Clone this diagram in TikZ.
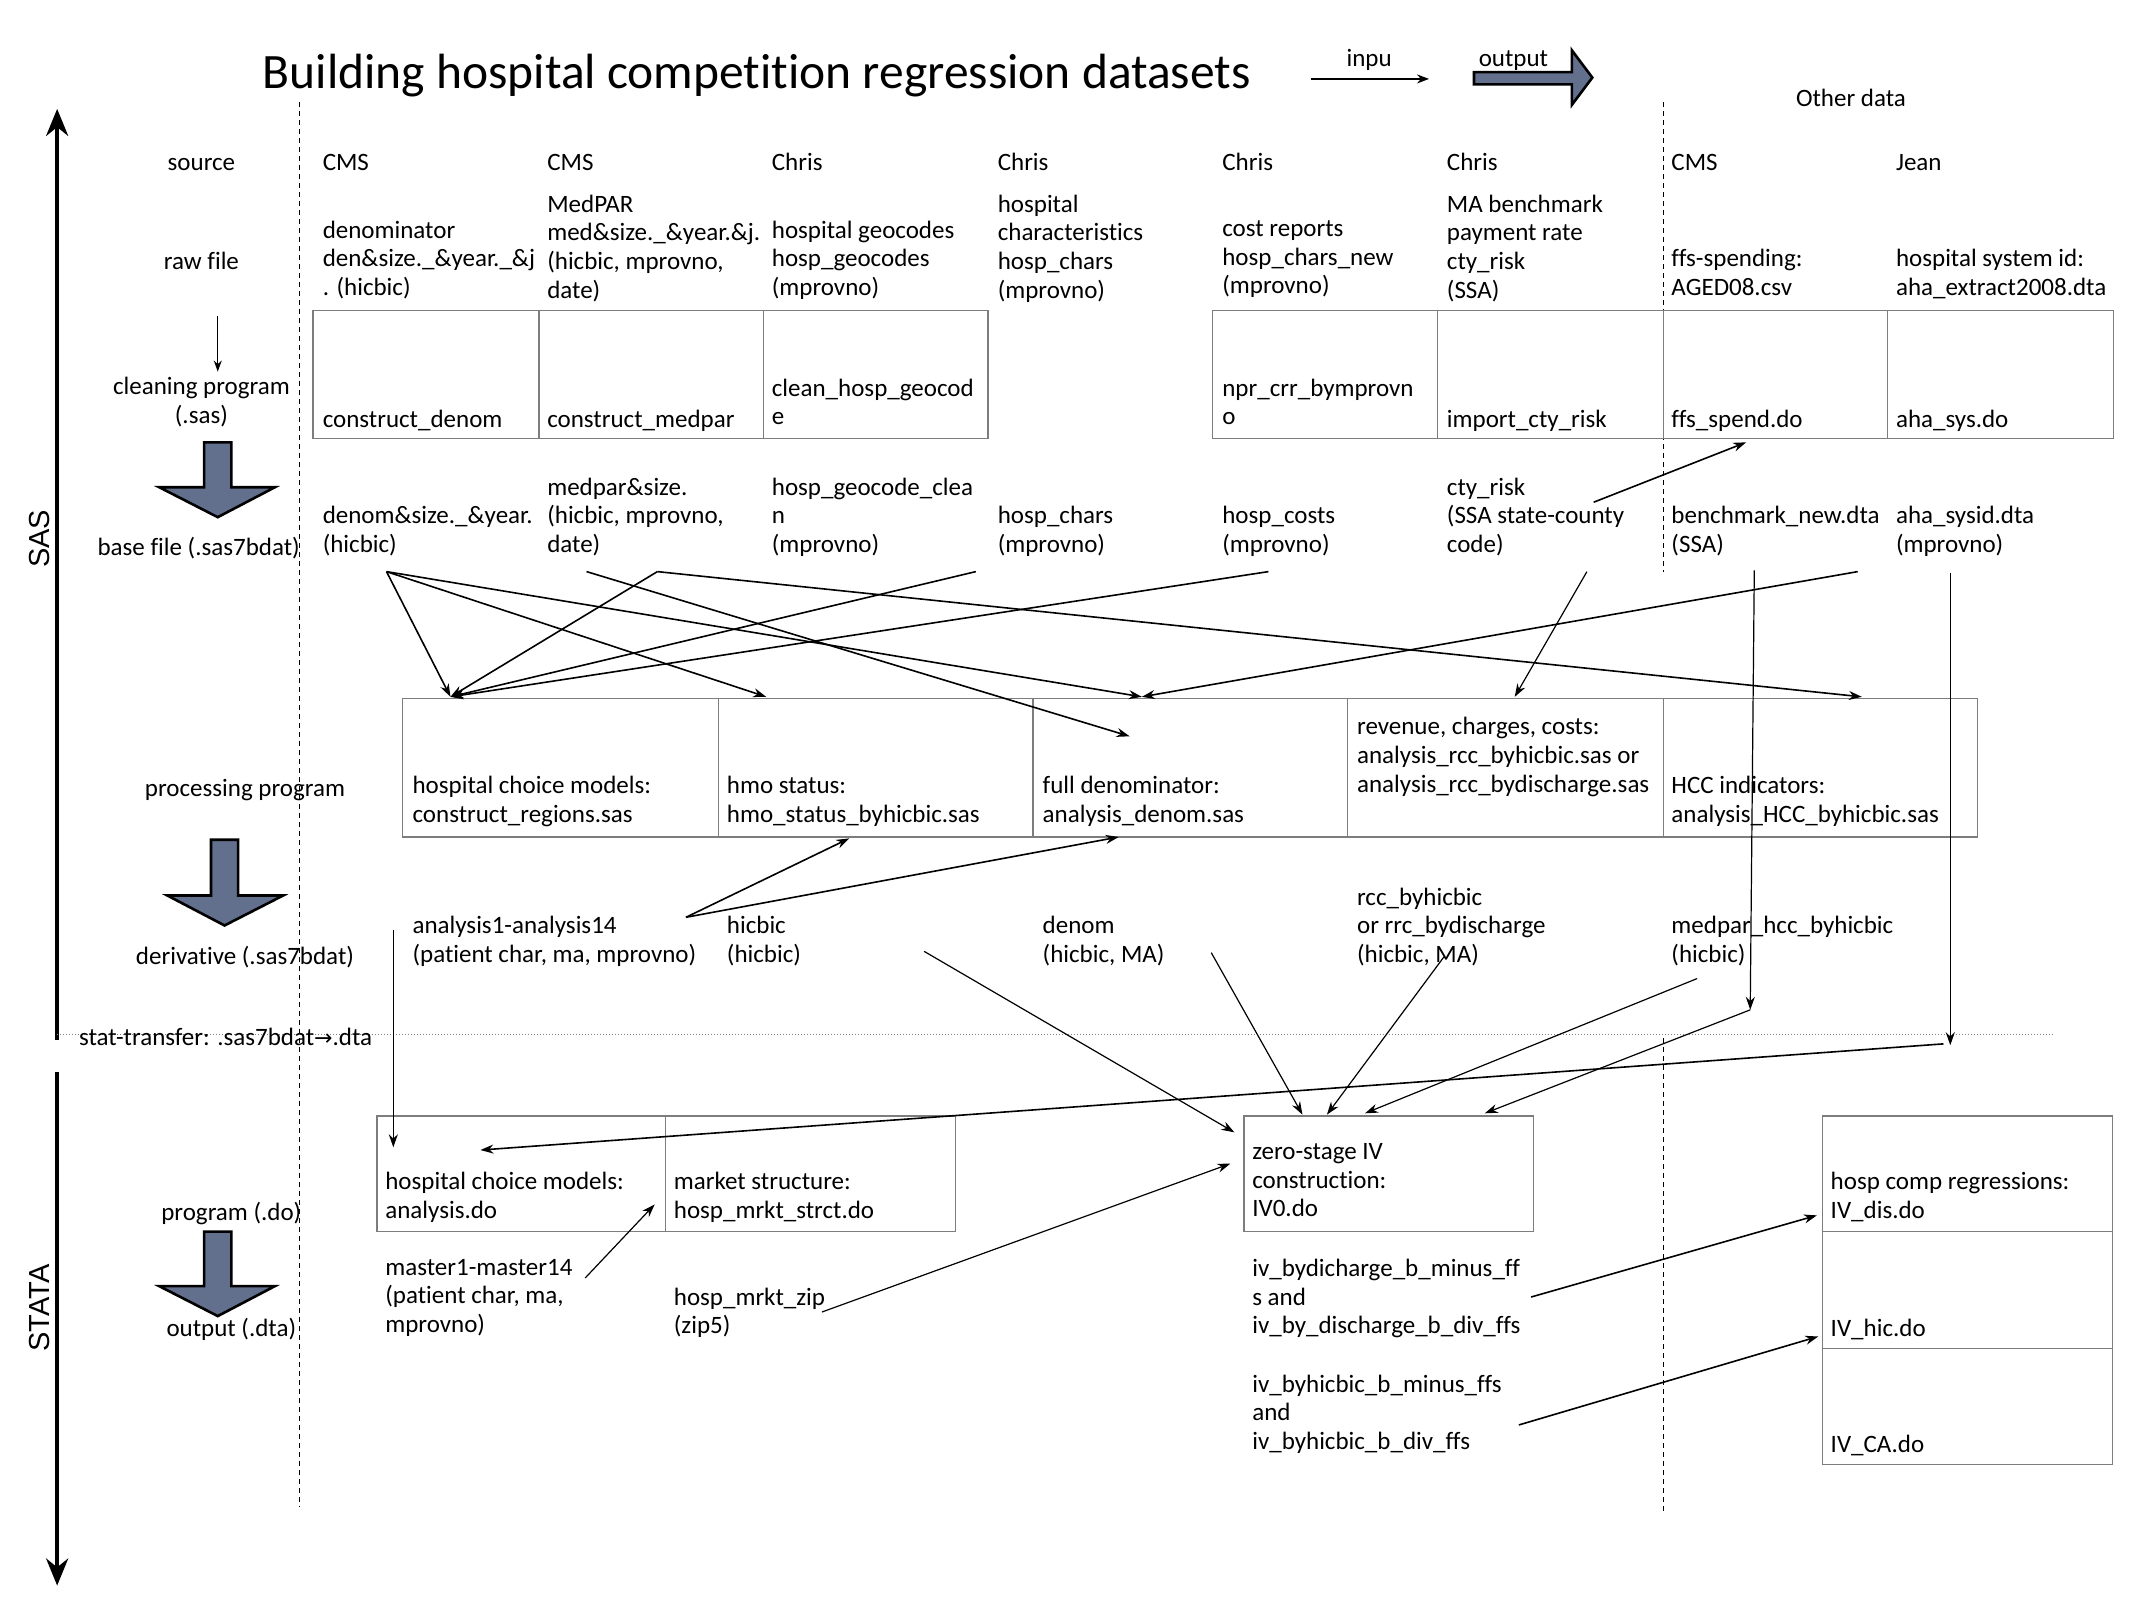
\documentclass[tikz,border=0pt]{standalone}
\usepackage{fontspec}
\setmainfont{Carlito}[Ligatures=NoCommon]
\newfontfamily\capsf{Liberation Sans}
\newfontfamily\symf{DejaVu Sans}
\usetikzlibrary{arrows.meta}
\definecolor{boxgray}{RGB}{125,125,125}
\definecolor{slate}{RGB}{98,112,142}
\newcommand\bodyfont{\fontsize{25}{28.6}\selectfont}
\begin{document}
\begin{tikzpicture}[x=1.361pt,y=-1.361pt,
 txt/.style={font=\bodyfont, align=left, inner sep=0pt, anchor=north west, yshift=10.8pt, execute at begin node=\strut},
 lbl/.style={font=\bodyfont, align=center, inner sep=0pt, anchor=north, yshift=10.8pt, execute at begin node=\strut},
 cell/.style 2 args={draw=boxgray, line width=1.2pt, minimum width={#1*1.361pt}, minimum height={#2*1.361pt}, inner sep=0pt},
 conn/.style={line width=1.6pt, -{Stealth[length=13pt,width=9pt]}},
 connthin/.style={line width=1.2pt, -{Stealth[length=13pt,width=9pt]}},
 blockarrow/.style={fill=slate, draw=black, line width=2.6pt, line join=miter},
 divider/.style={line width=1.1pt, dash pattern=on 5pt off 4pt},
 bigaxis/.style={line width=4pt, -{Stealth[length=27pt,width=22pt]}}
]
\useasboundingbox (0,0) rectangle (1568,1176);

% title and legend
\node[font=\fontsize{49.5}{54}\selectfont, anchor=base west, inner sep=0pt] (title) at (193,65) {Building hospital competition regression datasets};
\coordinate (lin1) at (963,58);
\coordinate (lin2) at (1050,58);
\draw[line width=1.5pt, -{Stealth[length=12pt,width=9pt]}] (lin1) -- (lin2);
\node[font=\bodyfont, anchor=base, inner sep=0pt] (inpu) at (1006,49) {inpu};
\filldraw[blockarrow] (1083,53) -- (1155,53) -- (1155,37) -- (1170,57) -- (1155,77) -- (1155,62) -- (1083,62) -- cycle;
\node[font=\bodyfont, anchor=base, inner sep=0pt] (outlbl) at (1112,49) {output};
\node[font=\bodyfont, anchor=base, inner sep=0pt] (other) at (1360,78) {Other data};

% axis
\coordinate (ax1) at (42,764);
\coordinate (ax2) at (42,80);
\coordinate (ax3) at (42,788);
\coordinate (ax4) at (42,1165);
\draw[bigaxis] (ax1) -- (ax2);
\draw[bigaxis] (ax3) -- (ax4);
\node[font=\capsf\fontsize{29}{30}\selectfont, rotate=90, inner sep=0pt] (sas) at (29,396) {SAS};
\node[font=\capsf\fontsize{29}{30}\selectfont, rotate=90, inner sep=0pt] (stata) at (29,961) {STATA};

% dashed dividers and dotted transfer line
\draw[divider] (220,75) -- (220,1107);
\draw[divider] (1222,75) -- (1222,420);
\draw[divider] (1222,763) -- (1222,1110);
\draw[gray, line width=1pt, dash pattern=on 1pt off 2pt] (42,760) -- (1510,760);

% row labels
\node[lbl] (Lsource) at (148,118) {source};
\node[lbl] (Lraw) at (148,191) {raw file};
\node[lbl] (Lclean) at (148,285) {cleaning program\\(.sas)};
\node[lbl] (Lbase) at (146,401) {base file (.sas7bdat)};
\node[lbl] (Lproc) at (180,578) {processing program};
\node[lbl] (Lderiv) at (180,702) {derivative (.sas7bdat)};
\node[txt] (Lstat) at (58,761) {stat-transfer: .sas7bdat{\symf\fontsize{22}{24}\selectfont →}.dta};
\node[lbl] (Lprog) at (170,890) {program (.do)};
\node[lbl] (Lout) at (170,975) {output (.dta)};
\coordinate (sa1) at (160,232);
\coordinate (sa2) at (160,273);
\draw[line width=1.1pt, -{Stealth[length=11pt,width=8pt]}] (sa1) -- (sa2);
\filldraw[blockarrow] (150,325) -- (170,325) -- (170,358) -- (202,358) -- (160,380) -- (117,358) -- (150,358) -- cycle;
\filldraw[blockarrow] (155,617) -- (175,617) -- (175,658) -- (208,658) -- (165,680) -- (123,658) -- (155,658) -- cycle;
\filldraw[blockarrow] (150,905) -- (170,905) -- (170,945) -- (202,945) -- (160,967) -- (117,945) -- (150,945) -- cycle;

% source row
\node[txt] (s1) at (237,118) {CMS};
\node[txt] (s2) at (402,118) {CMS};
\node[txt] (s3) at (567,118) {Chris};
\node[txt] (s4) at (733,118) {Chris};
\node[txt] (s5) at (898,118) {Chris};
\node[txt] (s6) at (1063,118) {Chris};
\node[txt] (s7) at (1228,118) {CMS};
\node[txt] (s8) at (1393,118) {Jean};

% raw files
\node[txt] (r1) at (237,170) {denominator\\den\&size.\_\&year.\_\&j\\. (hicbic)};
\node[txt] (r2) at (402,151) {MedPAR\\med\&size.\_\&year.\&j.\\(hicbic, mprovno,\\date)};
\node[txt] (r3) at (567,170) {hospital geocodes\\hosp\_geocodes\\(mprovno)};
\node[txt] (r4) at (733,151) {hospital\\characteristics\\hosp\_chars\\(mprovno)};
\node[txt] (r5) at (898,170) {cost reports\\hosp\_chars\_new\\(mprovno)};
\node[txt] (r6) at (1063,151) {MA benchmark\\payment rate\\cty\_risk\\(SSA)};
\node[txt] (r7) at (1228,191) {ffs-spending:\\AGED08.csv};
\node[txt] (r8) at (1393,191) {hospital system id:\\aha\_extract2008.dta};

% cleaning cells
\node[cell={166}{94}] (cl1) at (313,275) {};
\node[cell={165}{94}] (cl2) at (478.5,275) {};
\node[cell={165}{94}] (cl3) at (643.5,275) {};
\node[cell={165}{94}] (cl5) at (973.5,275) {};
\node[cell={166}{94}] (cl6) at (1139,275) {};
\node[cell={165}{94}] (cl7) at (1304.5,275) {};
\node[cell={166}{94}] (cl8) at (1470,275) {};
\node[txt] (c1) at (237,307) {construct\_denom};
\node[txt] (c2) at (402,307) {construct\_medpar};
\node[txt] (c3) at (567,286) {clean\_hosp\_geocod\\e};
\node[txt] (c5) at (898,286) {npr\_crr\_bymprovn\\o};
\node[txt] (c6) at (1063,307) {import\_cty\_risk};
\node[txt] (c7) at (1228,307) {ffs\_spend.do};
\node[txt] (c8) at (1393,307) {aha\_sys.do};

% base files
\node[txt] (b1) at (237,380) {denom\&size.\_\&year.\\(hicbic)};
\node[txt] (b2) at (402,359) {medpar\&size.\\(hicbic, mprovno,\\date)};
\node[txt] (b3) at (567,359) {hosp\_geocode\_clea\\n\\(mprovno)};
\node[txt] (b4) at (733,380) {hosp\_chars\\(mprovno)};
\node[txt] (b5) at (898,380) {hosp\_costs\\(mprovno)};
\node[txt] (b6) at (1063,359) {cty\_risk\\(SSA state-county\\code)};
\node[txt] (b7) at (1228,380) {benchmark\_new.dta\\(SSA)};
\node[txt] (b8) at (1393,380) {aha\_sysid.dta\\(mprovno)};

% processing cells
\node[cell={232}{102}] (p1) at (412,564) {};
\node[cell={231}{102}] (p2) at (643.5,564) {};
\node[cell={231}{102}] (p3) at (874.5,564) {};
\node[cell={232}{102}] (p4) at (1106,564) {};
\node[cell={231}{102}] (p5) at (1337.5,564) {};
\node[txt] (pt1) at (303,578) {hospital choice models:\\construct\_regions.sas};
\node[txt] (pt2) at (534,578) {hmo status:\\hmo\_status\_byhicbic.sas};
\node[txt] (pt3) at (766,578) {full denominator:\\analysis\_denom.sas};
\node[txt] (pt4) at (997,535) {revenue, charges, costs:\\analysis\_rcc\_byhicbic.sas or\\analysis\_rcc\_bydischarge.sas};
\node[txt] (pt5) at (1228,578) {HCC indicators:\\analysis\_HCC\_byhicbic.sas};

% derivatives
\node[txt] (d1) at (303,681) {analysis1-analysis14\\(patient char, ma, mprovno)};
\node[txt] (d2) at (534,681) {hicbic\\(hicbic)};
\node[txt] (d3) at (766,681) {denom\\(hicbic, MA)};
\node[txt] (d4) at (997,660) {rcc\_byhicbic\\or rrc\_bydischarge\\(hicbic, MA)};
\node[txt] (d5) at (1228,681) {medpar\_hcc\_byhicbic\\(hicbic)};

% stata programs
\node[cell={212}{85}] (g1) at (383,862.5) {};
\node[cell={213}{85}] (g2) at (595.5,862.5) {};
\node[cell={213}{85}] (iv0) at (1020.5,862.5) {};
\node[cell={213}{85}] (q1) at (1445.5,862.5) {};
\node[cell={213}{86}] (q2) at (1445.5,948) {};
\node[cell={213}{85}] (q3) at (1445.5,1033.5) {};
\node[txt] (gt1) at (283,869) {hospital choice models:\\analysis.do};
\node[txt] (gt2) at (495,869) {market structure:\\hosp\_mrkt\_strct.do};
\node[txt] (ivt) at (920,848) {zero-stage IV\\construction:\\IV0.do};
\node[txt] (qt1) at (1345,869) {hosp comp regressions:\\IV\_dis.do};
\node[txt] (qt2) at (1345,975) {IV\_hic.do};
\node[txt] (qt3) at (1345,1060) {IV\_CA.do};

% stata outputs
\node[txt] (o1) at (283,933) {master1-master14\\(patient char, ma,\\mprovno)};
\node[txt] (o2) at (495,954) {hosp\_mrkt\_zip\\(zip5)};
\node[txt] (o3) at (920,933) {iv\_bydicharge\_b\_minus\_ff\\s and\\iv\_by\_discharge\_b\_div\_ffs};
\node[txt] (o4) at (920,1018) {iv\_byhicbic\_b\_minus\_ffs\\and\\iv\_byhicbic\_b\_div\_ffs};

% connector end points
\coordinate (b1o) at (284,420);
\coordinate (b2o) at (431,420);
\coordinate (b2p) at (483,420);
\coordinate (b4o) at (717,420);
\coordinate (b5o) at (932,420);
\coordinate (b6o) at (1166,420);
\coordinate (b6u) at (1171,369);
\coordinate (b7o) at (1289,419);
\coordinate (b8o) at (1365,420);
\coordinate (b8v) at (1433,421);
\coordinate (p1i) at (331,512);
\coordinate (p2i) at (563,512);
\coordinate (p3i) at (839,512);
\coordinate (p3j) at (830,541);
\coordinate (p4i) at (1113,512);
\coordinate (p5i) at (1368,512);
\coordinate (c7i) at (1283,325);
\coordinate (p2b) at (624,616);
\coordinate (p3b) at (822,615);
\coordinate (bm) at (1286,742);
\coordinate (ah) at (1433,768);
\coordinate (ahs) at (1428,767);
\coordinate (d1v) at (289,683);
\coordinate (d1r) at (504,674);
\coordinate (d2o) at (679,699);
\coordinate (d3o) at (890,700);
\coordinate (d4o) at (1061,703);
\coordinate (d5o) at (1247,719);
\coordinate (g1v) at (289,843);
\coordinate (g1r) at (353,845);
\coordinate (g2i) at (481,885);
\coordinate (o1o) at (430,939);
\coordinate (o2o) at (604,964);
\coordinate (o3o) at (1125,953);
\coordinate (o4o) at (1116,1047);
\coordinate (iva) at (907,832);
\coordinate (ivb) at (957,819);
\coordinate (ivc) at (975,819);
\coordinate (ivd) at (1003,818);
\coordinate (ive) at (1091,818);
\coordinate (ivf) at (904,855);
\coordinate (q1i) at (1335,893);
\coordinate (q2i) at (1336,982);

% SAS-stage connectors
\draw[conn] (b1o) -- (p1i);
\draw[conn] (b1o) -- (p2i);
\draw[conn] (b1o) -- (p3i);
\draw[conn] (b2o) -- (p3j);
\draw[conn] (b2p) -- (p1i);
\draw[conn] (b2p) -- (p5i);
\draw[conn] (b4o) -- (p1i);
\draw[conn] (b5o) -- (p1i);
\draw[connthin] (b6o) -- (p4i);
\draw[conn] (b6u) -- (c7i);
\draw[conn] (b8o) -- (p3i);
\draw[connthin] (b7o) -- (bm);
\draw[connthin] (b8v) -- (ah);
\draw[conn] (d1r) -- (p2b);
\draw[conn] (d1r) -- (p3b);

% STATA-stage connectors
\draw[connthin] (d1v) -- (g1v);
\draw[conn] (ahs) -- (g1r);
\draw[connthin] (d2o) -- (iva);
\draw[connthin] (d3o) -- (ivb);
\draw[connthin] (d4o) -- (ivc);
\draw[connthin] (d5o) -- (ivd);
\draw[connthin] (bm) -- (ive);
\draw[connthin] (o2o) -- (ivf);
\draw[connthin] (o1o) -- (g2i);
\draw[conn] (o3o) -- (q1i);
\draw[conn] (o4o) -- (q2i);
\end{tikzpicture}
\end{document}
